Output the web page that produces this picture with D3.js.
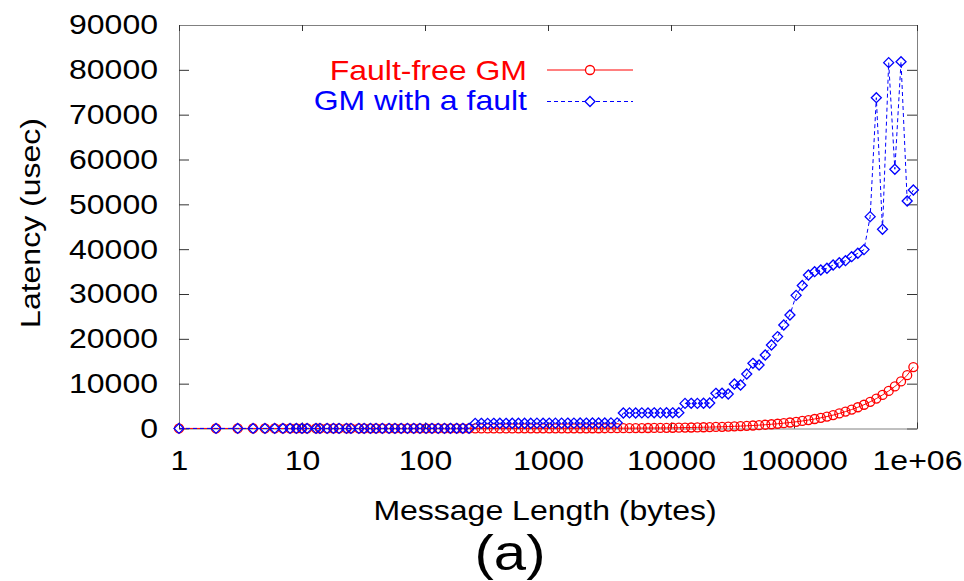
<!DOCTYPE html>
<html>
<head>
<meta charset="utf-8">
<script src="https://cdn.jsdelivr.net/npm/d3@7/dist/d3.min.js"></script>
<style>
  html, body { margin: 0; padding: 0; background: #fff; }
  svg { display: block; }
  text { font-family: "Liberation Sans", Arial, sans-serif; }
</style>
</head>
<body>
<svg id="chart" width="964" height="581"></svg>
<script>
// ---- data ----
const messageSizes = [1,2,3,4,5,6,7,8,9,10,
  11,13,14,16,18,20,23,25,29,32,
  36,40,45,51,57,64,72,81,91,102,
  114,128,144,161,181,203,228,256,287,323,
  362,406,456,512,575,645,724,813,912,1024,
  1149,1290,1448,1625,1825,2048,2299,2580,2896,3251,
  3649,4096,4598,5161,5793,6502,7298,8192,9195,10321,
  11585,13004,14596,16384,18390,20643,23170,26008,29193,32768,
  36781,41285,46341,52016,58386,65536,73562,82570,92682,104032,
  116772,131072,147123,165140,185364,208064,233544,262144,294247,330281,
  370728,416128,467088,524288,588493,660561,741455,832255,934176];

const faultFreeLatency = [14,14,14,15,15,15,15,15,16,16,
  16,16,16,16,17,17,17,17,17,17,
  18,18,18,18,18,19,19,19,19,20,
  20,20,21,21,21,22,22,23,23,24,
  25,25,26,27,28,29,30,32,33,35,
  37,39,41,43,46,49,52,56,60,65,
  70,76,83,91,99,109,119,132,146,162,
  180,200,222,248,276,308,344,384,430,480,
  535,600,672,752,842,945,1060,1190,1335,1500,
  1680,1890,2120,2380,2670,2990,3360,3770,4230,4740,
  5300,5950,6680,7480,8380,9380,10500,11900,13700];

const faultLatency = [15,15,16,16,16,17,17,17,18,18,
  18,18,19,19,19,20,20,21,21,22,
  22,23,23,24,25,26,27,28,29,30,
  31,33,35,37,39,41,43,1150,1160,1150,
  1160,1170,1160,1170,1180,1170,1180,1190,1180,1200,
  1190,1200,1210,1200,1220,1210,1230,1220,1240,1250,
  1260,3450,3480,3460,3490,3470,3500,3480,3510,3500,
  3530,5600,5620,5600,5640,5680,7850,7880,7700,9930,
  9700,12150,14540,14160,16400,18630,20500,23090,25320,29700,
  31900,34240,34980,35360,35740,36470,36980,37430,38320,39080,
  39900,47250,73790,44430,81600,57820,81820,50750,53200];

const xTickValues = [1,10,100,1000,10000,100000,1000000];
const xTickLabels = ["1","10","100","1000","10000","100000","1e+06"];
const yTickValues = [0,10000,20000,30000,40000,50000,60000,70000,80000,90000];
const seriesNames = ["Fault-free GM","GM with a fault"];

// ---- chart ----
const svg = d3.select("#chart");
svg.append("rect").attr("width",964).attr("height",581).attr("fill","#fff");

const x = d3.scaleLog().domain([1,1e6]).range([179,917]);
const y = d3.scaleLinear().domain([0,90000]).range([428.5,25]);

const SQ = 0.87; // vertical squash of the reference's lettering
function squash(sel) {
  sel.each(function() {
    const t = d3.select(this);
    const tx = +t.attr("x") || 0, ty = +t.attr("y") || 0;
    const prev = t.attr("transform") || "";
    t.attr("x",0).attr("y",0)
     .attr("transform", `${prev} translate(${tx},${ty}) scale(1,${SQ})`);
  });
}

const axisColor = "#808080", tickColor = "#333";
function styleAxis(g, showLabels) {
  g.select(".domain").attr("stroke", axisColor).attr("stroke-width",1);
  g.selectAll(".tick line").attr("stroke", tickColor).attr("stroke-width",1);
  g.selectAll(".tick text").attr("fill","#000").style("font-size","32px")
    .style("font-family","'Liberation Sans', Arial, sans-serif");
  if (!showLabels) g.selectAll(".tick text").remove();
  else squash(g.selectAll(".tick text"));
}

// left
svg.append("g").attr("transform",`translate(${x.range()[0]},0)`)
  .call(d3.axisLeft(y).tickValues(yTickValues).tickSize(-10).tickSizeOuter(0).tickPadding(21).tickFormat(d3.format("d")))
  .call(g => styleAxis(g,true));
// right
svg.append("g").attr("transform",`translate(${x.range()[1]},0)`)
  .call(d3.axisRight(y).tickValues(yTickValues).tickSize(-10).tickSizeOuter(0))
  .call(g => styleAxis(g,false));
// bottom
svg.append("g").attr("transform",`translate(0,${y.range()[0]})`)
  .call(d3.axisBottom(x).tickValues(xTickValues).tickSize(-6).tickSizeOuter(0).tickPadding(22)
        .tickFormat((d,i) => xTickLabels[i]))
  .call(g => styleAxis(g,true));
// top
svg.append("g").attr("transform",`translate(0,${y.range()[1]})`)
  .call(d3.axisTop(x).tickValues(xTickValues).tickSize(-6).tickSizeOuter(0))
  .call(g => styleAxis(g,false));

// axis titles
svg.append("text").attr("transform",`translate(40,223) rotate(-90) scale(1,${SQ})`)
  .attr("text-anchor","middle").style("font-size","32px").text("Latency (usec)");
svg.append("text").attr("transform",`translate(545,520) scale(1,${SQ})`).attr("text-anchor","middle")
  .style("font-size","32px").text("Message Length (bytes)");
svg.append("text").attr("transform",`translate(510,570) scale(1,${SQ})`).attr("text-anchor","middle")
  .style("font-size","58px").text("(a)");

const redData = messageSizes.map((s,i) => ({s, v: faultFreeLatency[i]}));
const blueData = messageSizes.map((s,i) => ({s, v: faultLatency[i]}));
const line = d3.line().x(d => x(d.s)).y(d => y(d.v));

const plot = svg.append("g");
// red series
plot.append("path").datum(redData).attr("d",line)
  .attr("fill","none").attr("stroke","#ff0000").attr("stroke-width",1);
plot.selectAll("circle.red").data(redData).enter().append("circle")
  .attr("class","red").attr("cx",d => x(d.s)).attr("cy",d => y(d.v)).attr("r",4.5)
  .attr("fill","none").attr("stroke","#ff0000").attr("stroke-width",1.3);
// blue series
plot.append("path").datum(blueData).attr("d",line)
  .attr("fill","none").attr("stroke","#0000ff").attr("stroke-width",1).attr("stroke-dasharray","4,3");
const diamond = "M0,-5L5,0L0,5L-5,0Z";
plot.selectAll("path.blue").data(blueData).enter().append("path")
  .attr("class","blue").attr("d",diamond)
  .attr("transform",d => `translate(${x(d.s)},${y(d.v)})`)
  .attr("fill","none").attr("stroke","#0000ff").attr("stroke-width",1.3);

// legend
const legend = svg.append("g");
const legendRows = [
  {name: seriesNames[0], color:"#ff0000", base:80, ly:70, dash:null, marker:"circle"},
  {name: seriesNames[1], color:"#0000ff", base:110, ly:101.5, dash:"4,3", marker:"diamond"}
];
legendRows.forEach(r => {
  legend.append("text").attr("transform",`translate(527,${r.base}) scale(1,${SQ})`).attr("text-anchor","end")
    .attr("fill",r.color).style("font-size","32px").text(r.name);
  legend.append("line").attr("x1",547).attr("x2",633).attr("y1",r.ly).attr("y2",r.ly)
    .attr("stroke",r.color).attr("stroke-width",1).attr("stroke-dasharray",r.dash);
  if (r.marker === "circle") {
    legend.append("circle").attr("cx",590).attr("cy",r.ly).attr("r",4.5)
      .attr("fill","#fff").attr("stroke",r.color).attr("stroke-width",1.3);
  } else {
    legend.append("path").attr("d",diamond).attr("transform",`translate(590,${r.ly})`)
      .attr("fill","#fff").attr("stroke",r.color).attr("stroke-width",1.3);
  }
});
</script>
</body>
</html>
